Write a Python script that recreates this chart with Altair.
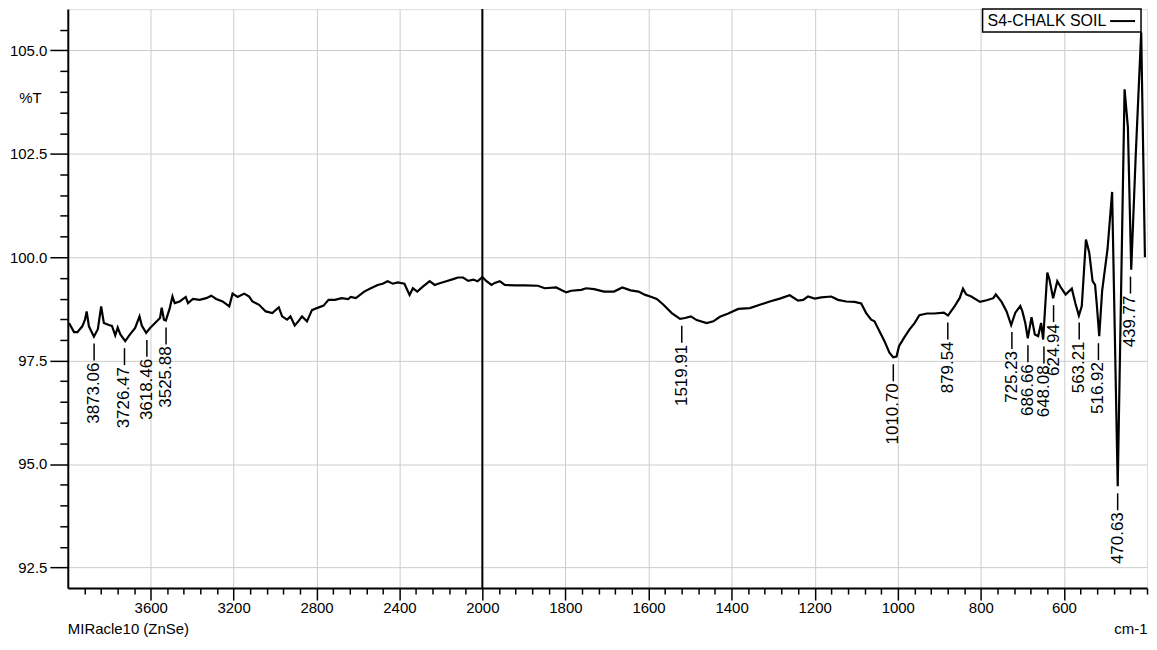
import altair as alt
import pandas as pd

# ---------------- data ----------------
wavenumber = [
    3994, 3970, 3954, 3930, 3917, 3909, 3898, 3874, 3855, 3839, 3826, 3802, 3787, 3771,
    3759, 3747, 3723, 3699, 3675, 3654, 3643, 3622, 3603, 3579, 3555, 3547, 3536, 3527,
    3508, 3495, 3484, 3460, 3431, 3420, 3396, 3364, 3332, 3308, 3284, 3253, 3221, 3205,
    3181, 3149, 3125, 3109, 3077, 3045, 3013, 2982, 2966, 2942, 2926, 2905, 2886, 2870,
    2846, 2822, 2798, 2766, 2742, 2711, 2679, 2647, 2635, 2610, 2570, 2538, 2505, 2481,
    2457, 2432, 2408, 2376, 2351, 2335, 2314, 2287, 2254, 2230, 2206, 2174, 2141, 2117,
    2093, 2068, 2044, 2023, 2000, 1990, 1978, 1970, 1958, 1946, 1922, 1898, 1866, 1850,
    1822, 1810, 1798, 1786, 1762, 1750, 1731, 1707, 1683, 1663, 1643, 1624, 1608, 1596,
    1580, 1564, 1544, 1524, 1512, 1498, 1484, 1460, 1444, 1428, 1408, 1384, 1356, 1332,
    1308, 1284, 1260, 1240, 1228, 1216, 1200, 1184, 1160, 1144, 1124, 1104, 1088, 1076,
    1064, 1056, 1044, 1032, 1020, 1011, 1003, 997, 985, 972, 960, 948, 930, 912, 889,
    879, 863, 851, 843, 835, 823, 802, 786, 770, 764, 750, 738, 727, 717, 705, 700, 693,
    687, 678, 670, 662, 655, 650, 640, 635, 626, 616, 608, 596, 581, 572, 564, 557, 547,
    539, 531, 525, 521, 515, 508, 495, 484, 470.5, 454, 446, 438, 427, 414, 405,
]
transmittance = [
    98.41, 98.19, 98.19, 98.33, 98.49, 98.69, 98.33, 98.08, 98.26, 98.81, 98.41, 98.36, 98.34, 98.11,
    98.30, 98.14, 97.97, 98.14, 98.29, 98.57, 98.35, 98.17, 98.29, 98.41, 98.53, 98.78, 98.49, 98.47,
    98.77, 99.05, 98.89, 98.93, 99.04, 98.89, 98.99, 98.97, 99.01, 99.07, 98.99, 98.93, 98.81, 99.12,
    99.04, 99.12, 99.05, 98.93, 98.85, 98.69, 98.65, 98.79, 98.57, 98.49, 98.57, 98.35, 98.46, 98.57,
    98.45, 98.72, 98.77, 98.83, 98.97, 98.97, 99.01, 98.99, 99.04, 99.01, 99.17, 99.25, 99.33, 99.36,
    99.42, 99.36, 99.39, 99.36, 99.09, 99.25, 99.17, 99.29, 99.42, 99.33, 99.37, 99.42, 99.47, 99.51,
    99.51, 99.43, 99.46, 99.42, 99.52, 99.42, 99.33, 99.38, 99.42, 99.33, 99.32, 99.32, 99.31, 99.25,
    99.27, 99.21, 99.15, 99.19, 99.21, 99.25, 99.23, 99.17, 99.17, 99.27, 99.20, 99.17, 99.09, 99.05,
    98.99, 98.85, 98.65, 98.51, 98.53, 98.57, 98.48, 98.41, 98.45, 98.56, 98.64, 98.75, 98.77, 98.85,
    98.93, 99.00, 99.08, 98.95, 98.97, 99.05, 99.00, 99.03, 99.05, 98.97, 98.93, 98.92, 98.88, 98.65,
    98.49, 98.45, 98.21, 97.97, 97.69, 97.58, 97.60, 97.85, 98.05, 98.25, 98.40, 98.60, 98.64, 98.64, 98.66,
    98.59, 98.82, 99.01, 99.24, 99.10, 99.05, 98.92, 98.96, 99.01, 99.10, 98.92, 98.69, 98.36, 98.66, 98.82, 98.69, 98.41,
    98.04, 98.55, 98.13, 98.09, 98.41, 98.01, 99.63, 99.47, 99.01, 99.42, 99.28, 99.10, 99.24, 98.87, 98.59, 98.82, 100.43,
    100.11, 99.42, 99.33, 98.87, 98.09, 99.19, 100.20, 101.58, 94.46, 104.06, 103.14, 99.70, 102.5, 105.44, 100.0,
]

peak_wn = [3873.06, 3726.47, 3618.46, 3525.88, 1519.91, 1010.70, 879.54,
           725.23, 686.66, 648.08, 624.94, 563.21, 516.92, 470.63, 439.77]
peak_T = [98.08, 97.97, 98.17, 98.47, 98.51, 97.58, 98.59,
          98.36, 98.04, 98.01, 99.01, 98.59, 98.09, 94.46, 99.70]

series_name = ["S4-CHALK SOIL"]
accessory_name = ["MIRacle10 (ZnSe)"]

x_major = [3600, 3200, 2800, 2400, 2000, 1800, 1600, 1400, 1200, 1000, 800, 600]
x_minor = ([v for v in range(3920, 2000, -80) if v % 400 != 0]
           + [v for v in range(1960, 400, -40) if v % 200 != 0] + [400])
y_major = [92.5, 95.0, 97.5, 100.0, 102.5, 105.0]
y_minor = [92.0 + 0.5 * i for i in range(1, 28) if (92.0 + 0.5 * i) not in y_major]

# ---------------- layout ----------------
W, H = 1083, 581
FONT = "Liberation Sans"

xscale = alt.Scale(domain=[4000, 2000, 400], range=[0, 416, W], nice=False, zero=False)
yscale = alt.Scale(domain=[92, 106], nice=False, zero=False)

spec = pd.DataFrame({"wn": wavenumber, "T": transmittance})
peaks = pd.DataFrame({"wn": peak_wn, "T": peak_T,
                      "label": [f"{v:.2f}" for v in peak_wn]})

line = alt.Chart(spec).mark_line(color="black", strokeWidth=2.2, clip=True).encode(
    x=alt.X("wn:Q", scale=xscale,
            axis=alt.Axis(orient="bottom", values=x_major, format="d", grid=True,
                          gridColor="#cccccc", gridWidth=1, tickSize=12, tickWidth=1.5,
                          tickColor="black", domainColor="black", domainWidth=2,
                          labelFontSize=15, labelFont=FONT, labelColor="black",
                          labelPadding=1, labelFlush=False,
                          title="cm-1", titleFont=FONT, titleFontSize=15,
                          titleFontWeight="normal", titleColor="black",
                          titleX=W, titleY=41, titleAlign="right",
                          titleBaseline="middle", titleAngle=0)),
    y=alt.Y("T:Q", scale=yscale,
            axis=alt.Axis(orient="left", values=y_major, format=".1f", grid=True,
                          gridColor="#cccccc", gridWidth=1, tickSize=18, tickWidth=1.5,
                          tickColor="black", domainColor="black", domainWidth=2,
                          labelFontSize=15, labelFont=FONT, labelColor="black",
                          labelPadding=3, labelFlush=False,
                          title="%T", titleFont=FONT, titleFontSize=15,
                          titleFontWeight="normal", titleColor="black",
                          titleX=-38, titleY=89, titleAlign="center",
                          titleBaseline="middle", titleAngle=0)),
)

xminor = alt.Chart(pd.DataFrame({"wn": x_minor})).mark_point(opacity=0).encode(
    x=alt.X("wn:Q", scale=xscale,
            axis=alt.Axis(orient="bottom", values=x_minor, labels=False, grid=False,
                          domain=False, tickSize=6, tickWidth=1.5, tickColor="black",
                          title=None)),
)
yminor = alt.Chart(pd.DataFrame({"T": y_minor})).mark_point(opacity=0).encode(
    y=alt.Y("T:Q", scale=yscale,
            axis=alt.Axis(orient="left", values=y_minor, labels=False, grid=False,
                          domain=False, tickSize=8, tickWidth=1.5, tickColor="black",
                          title=None)),
)

split = alt.Chart(pd.DataFrame({"wn": [2000]})).mark_rule(color="black", strokeWidth=2).encode(
    x=alt.X("wn:Q", scale=xscale, axis=None)
)

leaders = alt.Chart(peaks).mark_rule(color="black", strokeWidth=1.5,
                                      yOffset=7, y2Offset=24).encode(
    x=alt.X("wn:Q", scale=xscale, axis=None),
    y=alt.Y("T:Q", scale=yscale, axis=None),
    y2="T:Q",
)

labels = alt.Chart(peaks).mark_text(angle=270, align="right", baseline="middle", dx=-26,
                                    fontSize=17, font=FONT, color="black").encode(
    x=alt.X("wn:Q", scale=xscale, axis=None),
    y=alt.Y("T:Q", scale=yscale, axis=None),
    text="label:N",
)

leg_df = pd.DataFrame({"name": series_name})
leg_box = alt.Chart(leg_df).mark_rect(fill="white", stroke="black", strokeWidth=1.5).encode(
    x=alt.value(918), x2=alt.value(1077), y=alt.value(0), y2=alt.value(23)
)
leg_text = alt.Chart(leg_df).mark_text(align="left", baseline="middle", fontSize=16,
                                       font=FONT, color="black").encode(
    x=alt.value(923), y=alt.value(12), text="name:N"
)
leg_line = alt.Chart(leg_df).mark_rule(color="black", strokeWidth=2).encode(
    x=alt.value(1046), x2=alt.value(1071), y=alt.value(12)
)
acc_text = alt.Chart(pd.DataFrame({"name": accessory_name})).mark_text(
    align="left", baseline="middle", fontSize=15, font=FONT, color="black").encode(
    x=alt.value(0), y=alt.value(H + 41), text="name:N"
)

chart = alt.layer(
    line, xminor, yminor, split, leaders, labels, leg_box, leg_text, leg_line, acc_text
).resolve_axis(x="independent", y="independent").properties(
    width=W, height=H,
    autosize=alt.AutoSizeParams(type="none"),
    padding={"left": 60, "top": 0, "right": 2, "bottom": 53},
).configure_view(stroke="black", strokeWidth=2).configure(background="white")

chart.save("out.html", embed_options={"renderer": "svg", "actions": False})
